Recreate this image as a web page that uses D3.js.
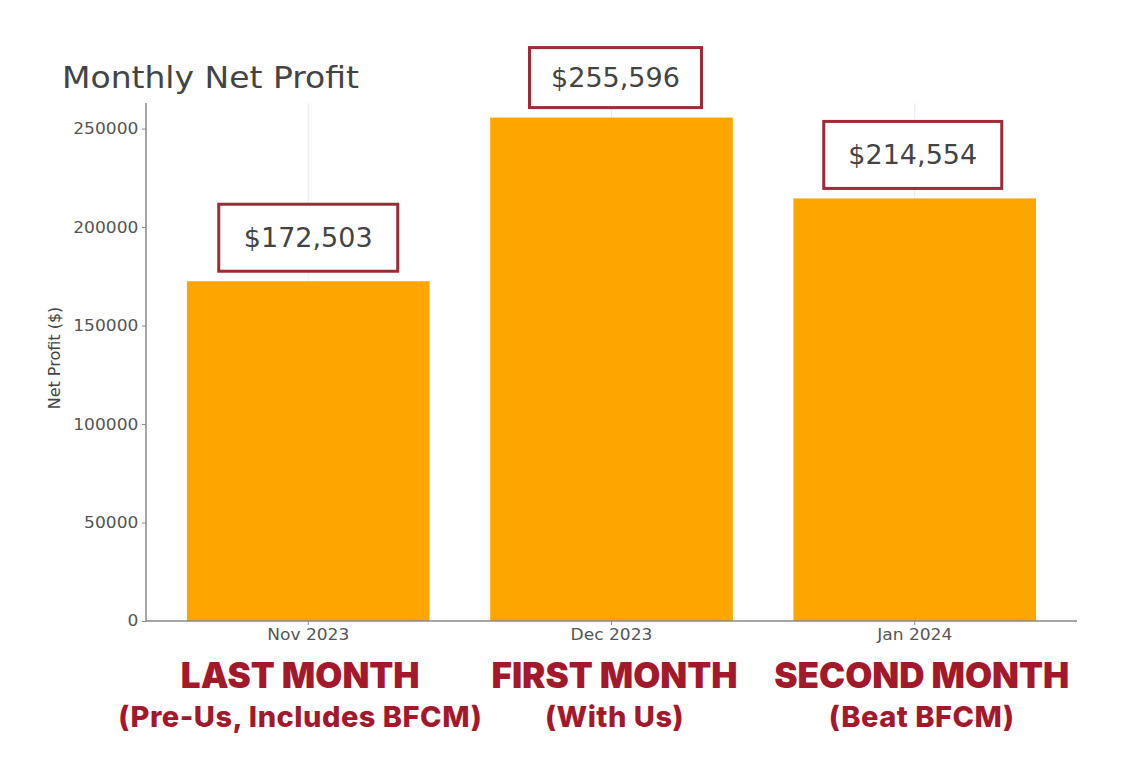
<!DOCTYPE html>
<html>
<head>
<meta charset="utf-8">
<script src="https://cdn.jsdelivr.net/npm/d3@7"></script>
<style>
  body { margin: 0; background: #fff; }
  svg { display: block; }
</style>
</head>
<body>
<svg width="1146" height="776"></svg>
<script>
// chart data
var months = ["Nov 2023", "Dec 2023", "Jan 2024"];
var profits = [172503, 255596, 214554];
var yTicks = [0, 50000, 100000, 150000, 200000, 250000];
var headlines = ["LAST MONTH", "FIRST MONTH", "SECOND MONTH"];
var sublines = ["(Pre-Us, Includes BFCM)", "(With Us)", "(Beat BFCM)"];

var svg = d3.select("svg");
var plotLeft = 146, plotRight = 1077, plotTop = 103, plotBottom = 621;

var x = d3.scaleBand()
    .domain(months)
    .range([plotLeft, plotRight])
    .paddingInner(0.2)
    .paddingOuter(0.135);

var y = d3.scaleLinear()
    .domain([0, 263000])
    .range([plotBottom, plotTop]);

var fmt = d3.format("$,");

// title
svg.append("text")
    .attr("transform", "translate(62,88) scale(1.1,1)")
    .style("font-family", "DejaVu Sans")
    .style("font-size", "30px")
    .style("fill", "#444")
    .text("Monthly Net Profit");

// faint vertical grid
svg.append("g").selectAll("line")
    .data(months)
  .enter().append("line")
    .attr("x1", d => x(d) + x.bandwidth() / 2)
    .attr("x2", d => x(d) + x.bandwidth() / 2)
    .attr("y1", plotTop).attr("y2", plotBottom)
    .style("stroke", "#ececec")
    .style("stroke-width", 1);

// bars
svg.append("g").selectAll("rect")
    .data(profits)
  .enter().append("rect")
    .attr("x", (d, i) => x(months[i]))
    .attr("y", d => y(d))
    .attr("width", x.bandwidth())
    .attr("height", d => plotBottom - y(d))
    .style("fill", "#ffa500");

// axes
var yAxis = svg.append("g")
    .attr("transform", "translate(" + plotLeft + ",0)")
    .call(d3.axisLeft(y).tickValues(yTicks).tickFormat(d3.format("d")).tickSize(4).tickPadding(3));
var xAxis = svg.append("g")
    .attr("transform", "translate(0," + plotBottom + ")")
    .call(d3.axisBottom(x).tickSize(4).tickPadding(4));

[yAxis, xAxis].forEach(function(a) {
    a.select(".domain").style("stroke", "#888").style("stroke-width", 1.5);
    a.selectAll(".tick line").style("stroke", "#888");
    a.selectAll("text")
        .attr("transform", "scale(1.1,1)")
        .style("font-family", "DejaVu Sans")
        .style("font-size", "15.5px")
        .style("fill", "#555");
});
yAxis.select(".domain").attr("d", "M0," + plotTop + "V" + plotBottom);
xAxis.select(".domain").attr("d", "M" + plotLeft + ",0H" + plotRight);

svg.append("text")
    .attr("transform", "translate(60," + ((plotTop + plotBottom) / 2 - 4) + ") rotate(-90)")
    .attr("text-anchor", "middle")
    .style("font-family", "DejaVu Sans")
    .style("font-size", "16px")
    .style("fill", "#444")
    .text("Net Profit ($)");

// value callout boxes
var boxW = [179, 172, 178], boxH = [67, 60, 67];
var boxShift = [0, 4, -2];
var callouts = svg.append("g").selectAll("g")
    .data(profits)
  .enter().append("g")
    .attr("transform", (d, i) => "translate(" + (x(months[i]) + x.bandwidth() / 2 + boxShift[i]) + "," + (y(d) - 10 - boxH[i] / 2) + ")");

callouts.append("rect")
    .attr("x", (d, i) => -boxW[i] / 2).attr("y", (d, i) => -boxH[i] / 2)
    .attr("width", (d, i) => boxW[i]).attr("height", (d, i) => boxH[i])
    .style("fill", "#fff")
    .style("stroke", "#9e2a35")
    .style("stroke-width", 3);

callouts.append("text")
    .attr("text-anchor", "middle")
    .attr("dy", "0.35em")
    .style("font-family", "DejaVu Sans")
    .style("font-size", "27px")
    .style("fill", "#444")
    .text(d => fmt(d));

// red captions under each month
var captionShift = [-8, 3, 7];
var captions = svg.append("g").selectAll("g")
    .data(months)
  .enter().append("g")
    .attr("transform", (d, i) => "translate(" + (x(d) + x.bandwidth() / 2 + captionShift[i]) + ",0)");

captions.append("text")
    .attr("text-anchor", "middle")
    .attr("y", 688)
    .style("font-family", "Inter, Lato, sans-serif")
    .style("font-weight", 900)
    .style("font-size", "35px")
    .style("fill", "#a3192b")
    .text((d, i) => headlines[i]);

captions.append("text")
    .attr("text-anchor", "middle")
    .attr("y", 727)
    .style("font-family", "Inter, Lato, sans-serif")
    .style("font-weight", 800)
    .style("font-size", "29px")
    .style("letter-spacing", "0.5px")
    .style("fill", "#a3192b")
    .text((d, i) => sublines[i]);
</script>
</body>
</html>
